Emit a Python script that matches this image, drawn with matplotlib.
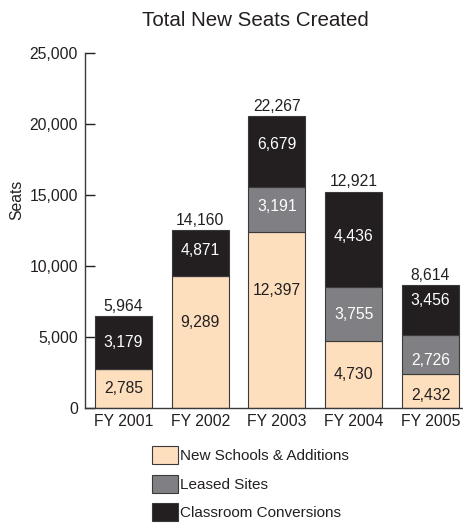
import matplotlib
matplotlib.use("Agg")
import matplotlib.pyplot as plt
from matplotlib.patches import Patch

# ---- data ----
years = ["FY 2001", "FY 2002", "FY 2003", "FY 2004", "FY 2005"]
series = ["New Schools & Additions", "Leased Sites", "Classroom Conversions"]
# printed values
new_schools = [2785, 9289, 12397, 4730, 2432]
leased = [None, None, 3191, 3755, 2726]
conversions = [3179, 4871, 6679, 4436, 3456]
totals = [5964, 14160, 22267, 12921, 8614]
# bar segment heights as drawn in the reference
new_schools_drawn = [2725, 9296, 12415, 4718, 2394]
leased_drawn = [0, 0, 3170, 3782, 2747]
conversions_drawn = [3754, 3239, 4978, 6732, 3521]
yticks = [0, 5000, 10000, 15000, 20000, 25000]

colors = ["#FDDFBE", "#808084", "#231F20"]
text_colors = ["#231F20", "white", "white"]
# vertical nudges (points) for in-bar labels, per series then per bar
nudges = [
    [0, 14, 21, 0, -3],
    [0, 0, 2, 0, -4],
    [0, 2, 5, 2, 7],
]

FONT = ["Liberation Sans", "DejaVu Sans"]
plt.rcParams["font.family"] = FONT
FS = 11.3

fig = plt.figure(figsize=(4.63, 5.24), dpi=100)
ax = fig.add_axes([85 / 463, 1 - 408 / 524, (462 - 85) / 463, (408 - 52.7) / 524])

x = list(range(len(years)))
width = 0.742
drawn = [new_schools_drawn, leased_drawn, conversions_drawn]
shown = [new_schools, leased, conversions]
bottoms = [0] * len(years)
for s in range(3):
    ax.bar(x, drawn[s], width, bottom=bottoms, color=colors[s],
           edgecolor="#3a3a3a", linewidth=0.8, label=series[s], zorder=2)
    for i in x:
        v = shown[s][i]
        if v:
            yc = bottoms[i] + drawn[s][i] / 2
            ax.annotate(f"{v:,}", (i, yc), xytext=(0, nudges[s][i]),
                        textcoords="offset points", ha="center", va="center",
                        fontsize=FS, color=text_colors[s])
    bottoms = [b + d for b, d in zip(bottoms, drawn[s])]

for i in x:
    ax.annotate(f"{totals[i]:,}", (i, bottoms[i]), xytext=(0, 1.5),
                textcoords="offset points", ha="center", va="bottom",
                fontsize=FS, color="#231F20")

ax.set_xlim(-0.5, 4.41)
ax.set_ylim(0, 25000)
ax.set_yticks(yticks)
ax.set_yticklabels([f"{t:,}" for t in yticks])
ax.set_xticks(x)
ax.set_xticklabels(years)
ax.tick_params(axis="y", direction="in", length=7, width=1, labelsize=FS,
               colors="#231F20", pad=5)
ax.tick_params(axis="x", length=0, labelsize=FS, colors="#231F20", pad=4)
for sp in ["top", "right"]:
    ax.spines[sp].set_visible(False)
for sp in ["left", "bottom"]:
    ax.spines[sp].set_color("#3a3a3a")
    ax.spines[sp].set_linewidth(1)

ax.set_ylabel("Seats", fontsize=FS, color="#231F20")
ax.yaxis.set_label_coords(-0.16, 0.585)

fig.text(255 / 463, 1 - 20 / 524, "Total New Seats Created", ha="center", va="center",
         fontsize=14.8, color="#231F20")

handles = [Patch(facecolor=colors[s], edgecolor="#3a3a3a", linewidth=0.8) for s in range(3)]
leg = fig.legend(handles, series, loc="upper left", bbox_to_anchor=(152 / 463, 1 - 446 / 524),
                 frameon=False, fontsize=11, handlelength=1.7, handleheight=1.45,
                 handletextpad=0.15, labelspacing=0.68, borderaxespad=0, borderpad=0)
for t in leg.get_texts():
    t.set_color("#231F20")

fig.savefig("out.png", dpi=100)
